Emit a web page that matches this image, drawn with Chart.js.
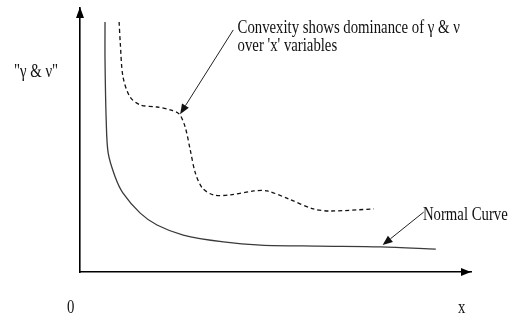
<!DOCTYPE html>
<html>
<head>
<meta charset="utf-8">
<script src="https://cdn.jsdelivr.net/npm/chart.js@4/dist/chart.umd.min.js"></script>
<style>
  html, body { margin: 0; padding: 0; background: #fff; }
  #wrap { width: 514px; height: 320px; position: relative; }
</style>
</head>
<body>
<div id="wrap"><canvas id="c" width="514" height="320"></canvas></div>
<script>
// Normal curve (solid)
const normalX = [0.64, 0.64, 0.67, 0.72, 0.90, 1.10, 1.54, 1.97, 2.64, 3.67, 4.62, 6.08, 7.69, 9.10];
const normalY = [9.47, 8.03, 5.76, 4.51, 3.60, 2.99, 2.23, 1.78, 1.40, 1.14, 1.02, 0.98, 0.95, 0.87];
// Convex curve (dashed)
const convexX = [1.00, 1.03, 1.10, 1.28, 1.54, 1.97, 2.31, 2.54, 2.69, 2.82, 2.95, 3.13, 3.41, 3.85, 4.44, 4.79, 5.33, 5.97, 6.41, 7.51];
const convexY = [9.47, 8.67, 7.39, 6.63, 6.33, 6.25, 6.14, 5.98, 5.49, 4.62, 3.75, 3.18, 2.92, 2.92, 3.07, 3.07, 2.77, 2.39, 2.31, 2.39];
// Axis labels and annotation texts
const yAxisLabel = '"\u03B3 & \u03BD"';
const xAxisLabel = 'x';
const originLabel = '0';
const convexNote = ["Convexity shows dominance of \u03B3 & \u03BD", "over 'x' variables"];
const normalNote = 'Normal Curve';

const toPts = (xs, ys) => xs.map((x, i) => ({ x: x, y: ys[i] }));

const FONT = '18px "Liberation Serif", "Times New Roman", serif';
const SX = 0.82;

function drawText(ctx, txt, x, y) {
  ctx.save();
  ctx.translate(x, y);
  ctx.scale(SX, 1);
  ctx.fillText(txt, 0, 0);
  ctx.restore();
}
function arrow(ctx, x1, y1, x2, y2, len, half) {
  ctx.beginPath();
  ctx.moveTo(x1, y1);
  const a = Math.atan2(y2 - y1, x2 - x1);
  const bx = x2 - Math.cos(a) * len, by = y2 - Math.sin(a) * len;
  ctx.lineTo(bx, by);
  ctx.stroke();
  ctx.beginPath();
  ctx.moveTo(x2, y2);
  ctx.lineTo(bx + Math.sin(a) * half, by - Math.cos(a) * half);
  ctx.lineTo(bx - Math.sin(a) * half, by + Math.cos(a) * half);
  ctx.closePath();
  ctx.fill();
}

const decor = {
  id: 'decor',
  afterDraw(chart) {
    const ctx = chart.ctx, ca = chart.chartArea;
    const xs = chart.scales.x, ys = chart.scales.y;
    const px = v => xs.getPixelForValue(v), py = v => ys.getPixelForValue(v);
    ctx.save();
    ctx.fillStyle = '#000';
    ctx.strokeStyle = '#000';
    // axis arrowheads
    ctx.beginPath();
    ctx.moveTo(ca.left, ca.top - 1);
    ctx.lineTo(ca.left - 4, ca.top + 10);
    ctx.lineTo(ca.left + 4, ca.top + 10);
    ctx.closePath(); ctx.fill();
    ctx.beginPath();
    ctx.moveTo(ca.right, ca.bottom);
    ctx.lineTo(ca.right - 10, ca.bottom - 4);
    ctx.lineTo(ca.right - 10, ca.bottom + 4);
    ctx.closePath(); ctx.fill();

    // annotation arrows
    ctx.lineWidth = 1;
    ctx.strokeStyle = '#222';
    ctx.fillStyle = '#111';
    arrow(ctx, px(3.92), py(9.17), px(2.56), py(5.98), 10, 4);
    arrow(ctx, px(8.79), py(2.27), px(7.74), py(1.02), 10, 4);

    // texts
    ctx.font = FONT;
    ctx.textBaseline = 'alphabetic';
    ctx.textAlign = 'left';
    ctx.fillStyle = '#111';
    drawText(ctx, convexNote[0], px(4.03), py(9.05));
    drawText(ctx, convexNote[1], px(4.03), py(8.37));
    drawText(ctx, normalNote, px(8.77), py(1.97));
    drawText(ctx, yAxisLabel, ca.left - 66, ca.top + 69);
    drawText(ctx, originLabel, ca.left - 13, ca.bottom + 41);
    drawText(ctx, xAxisLabel, ca.right - 13, ca.bottom + 41);
    ctx.restore();
  }
};

new Chart(document.getElementById('c'), {
  type: 'scatter',
  data: {
    datasets: [
      {
        label: 'Normal Curve',
        data: toPts(normalX, normalY),
        showLine: true,
        borderColor: '#3a3a3a',
        borderWidth: 1.3,
        pointRadius: 0,
        tension: 0.3,
        fill: false
      },
      {
        label: 'Convexity',
        data: toPts(convexX, convexY),
        showLine: true,
        borderColor: '#111',
        borderWidth: 1.3,
        borderDash: [4, 3],
        pointRadius: 0,
        tension: 0.3,
        fill: false
      }
    ]
  },
  options: {
    responsive: false,
    animation: false,
    devicePixelRatio: 1,
    layout: { padding: { left: 72, top: 8, right: 43, bottom: 40 } },
    plugins: { legend: { display: false }, tooltip: { enabled: false } },
    scales: {
      x: {
        type: 'linear', min: 0, max: 10,
        grid: { display: false },
        ticks: { display: false },
        border: { display: true, color: '#000', width: 1.6 }
      },
      y: {
        type: 'linear', min: 0, max: 10,
        grid: { display: false },
        ticks: { display: false },
        border: { display: true, color: '#000', width: 1.6 }
      }
    }
  },
  plugins: [decor]
});
</script>
</body>
</html>
